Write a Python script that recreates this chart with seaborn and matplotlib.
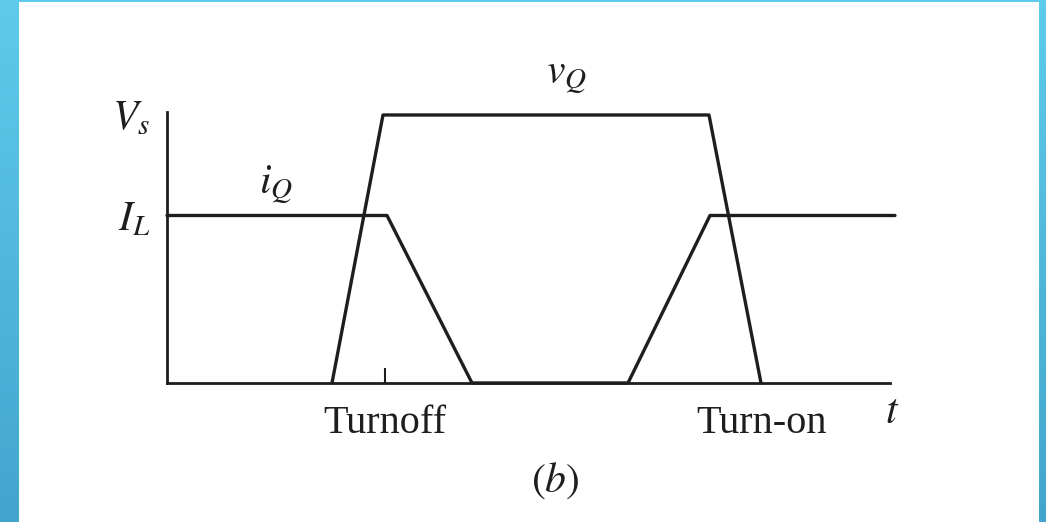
import numpy as np
import pandas as pd
import matplotlib.pyplot as plt
import seaborn as sns
from matplotlib.colors import LinearSegmentedColormap

# switching waveforms (time in arbitrary units, levels relative to Vs)
t_iq = [0, 220, 305, 461, 543, 728]
i_q = [0.625, 0.625, 0, 0, 0.625, 0.625]
t_vq = [165, 216, 542, 594]
v_q = [0, 1, 1, 0]

x_ticks = [218, 595]
x_labels = ['Turnoff', 'Turn-on']
y_ticks = [0.625, 1.0]
y_labels = ['$I_L$', '$V_s$']

iq = pd.DataFrame({'t': t_iq, 'val': i_q})
vq = pd.DataFrame({'t': t_vq, 'val': v_q})

sns.set_theme(style='white')
plt.rcParams['font.family'] = ['Liberation Serif', 'DejaVu Serif']
plt.rcParams['mathtext.fontset'] = 'stix'

ink = '#1e1e1e'
fig = plt.figure(figsize=(10.46, 5.22), dpi=100)

# blue slide border
bg = fig.add_axes([0, 0, 1, 1])
cmap = LinearSegmentedColormap.from_list('border', ['#5ecbea', '#43a5ce'])
bg.imshow(np.linspace(0, 1, 100).reshape(-1, 1), aspect='auto', cmap=cmap, extent=[0, 1, 0, 1])
bg.axis('off')

W, H = 1046, 522
ax = fig.add_axes([19 / W, 0, 1020 / W, 520 / H])
ax.set_facecolor('white')

sns.lineplot(data=iq, x='t', y='val', ax=ax, color=ink, lw=2.4, sort=False, estimator=None)
sns.lineplot(data=vq, x='t', y='val', ax=ax, color=ink, lw=2.4, sort=False, estimator=None)

ax.set_xlim(-148, 872)
ax.set_ylim(-0.5187, 1.4216)

for s in ['top', 'right']:
    ax.spines[s].set_visible(False)
ax.spines['left'].set_position(('data', 0))
ax.spines['bottom'].set_position(('data', 0))
ax.spines['left'].set_bounds(0, 1.011)
ax.spines['bottom'].set_bounds(0, 723)
for s in ['left', 'bottom']:
    ax.spines[s].set_color(ink)
    ax.spines[s].set_linewidth(2.0)

ax.set_xticks(x_ticks)
ax.set_xticklabels(x_labels, fontsize=29)
ax.tick_params(axis='x', direction='in', length=10.8, width=1.5, color=ink, pad=16, labelcolor=ink, bottom=True)
ax.xaxis.get_major_ticks()[1].tick1line.set_visible(False)

ax.set_yticks(y_ticks)
ax.set_yticklabels(y_labels, fontsize=30)
ax.tick_params(axis='y', length=0, pad=12, labelcolor=ink, left=True)

ax.set_xlabel('')
ax.set_ylabel('')

ax.text(109, 0.709, '$i_Q$', fontsize=30, ha='center', va='baseline', color=ink)
ax.text(399, 1.119, '$v_Q$', fontsize=30, ha='center', va='baseline', color=ink)
ax.text(725, -0.149, '$t$', fontsize=30, ha='center', va='baseline', color=ink)
ax.text(388, -0.407, '$(b)$', fontsize=30, ha='center', va='baseline', color=ink)

fig.savefig('out.png', dpi=100)
